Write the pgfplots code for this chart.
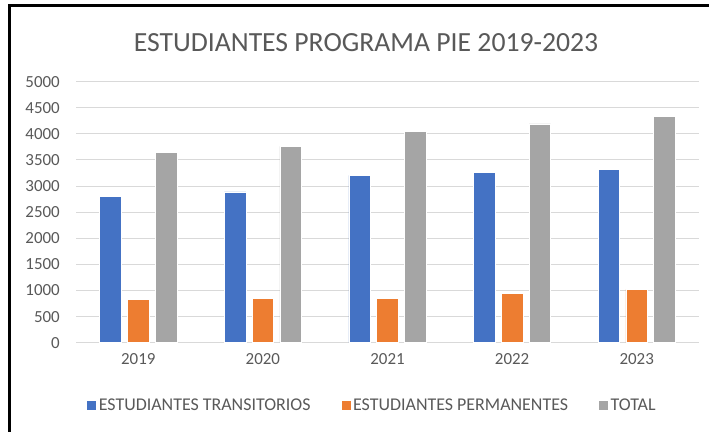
\documentclass[border=0pt]{standalone}
\usepackage{pgfplots}
\pgfplotsset{compat=1.18}
\usepackage{fontspec}
\setmainfont{Carlito}
\definecolor{cblue}{HTML}{4472C4}
\definecolor{corange}{HTML}{ED7D31}
\definecolor{cgray}{HTML}{A5A5A5}
\definecolor{cgrid}{HTML}{D9D9D9}
\definecolor{ctext}{HTML}{595959}
\begin{document}
\begin{tikzpicture}
\useasboundingbox (0bp,0bp) rectangle (709bp,432bp);
\fill[white] (0bp,0bp) rectangle (709bp,432bp);
\draw[line width=3bp,black] (9.5bp,0bp) -- (9.5bp,426.5bp) -- (709bp,426.5bp);
\node[text=ctext,font=\fontsize{27.8}{33}\selectfont,inner sep=0pt] at (366bp,389bp) {ESTUDIANTES PROGRAMA PIE 2019-2023};
\begin{axis}[
  at={(76bp,89.3bp)}, anchor=south west,
  width=623bp, height=261bp, scale only axis,
  xmin=-0.5, xmax=4.5, ymin=0, ymax=5000,
  xtick={0,1,2,3,4}, xticklabels={2019,2020,2021,2022,2023},
  ytick={0,500,...,5000},
  major tick length=0pt,
  axis line style={draw=none},
  ymajorgrids, grid style={cgrid, line width=1bp},
  /pgf/number format/assume math mode=true,
  /pgf/number format/1000 sep={},
  tick label style={text=ctext, font=\fontsize{17}{20}\selectfont, inner sep=0pt},
  yticklabel style={anchor=east, xshift=-16bp},
  xticklabel style={anchor=north, yshift=-11bp},
  ybar, bar width=0.173,
  legend columns=3,
  legend style={at={(0.475,-0.239)}, anchor=center, draw=none, fill=none,
    font=\fontsize{18}{21}\selectfont, text=ctext,
    /tikz/every even column/.append style={column sep=28bp},
    /tikz/every odd column/.append style={column sep=0bp}},
  legend image code/.code={\fill[#1] (0bp,-5bp) rectangle (10bp,5bp);},
]
\addplot[fill=cblue, draw=white, line width=0.6bp, bar shift=-0.223] coordinates {(0,2805) (1,2887) (2,3207) (3,3257) (4,3322)};
\addplot[fill=corange, draw=white, line width=0.6bp, bar shift=0] coordinates {(0,831) (1,856) (2,850) (3,939) (4,1023)};
\addplot[fill=cgray, draw=white, line width=0.6bp, bar shift=0.223] coordinates {(0,3653) (1,3762) (2,4050) (3,4190) (4,4330)};
\legend{ESTUDIANTES TRANSITORIOS, ESTUDIANTES PERMANENTES, TOTAL}
\end{axis}
\end{tikzpicture}
\end{document}
